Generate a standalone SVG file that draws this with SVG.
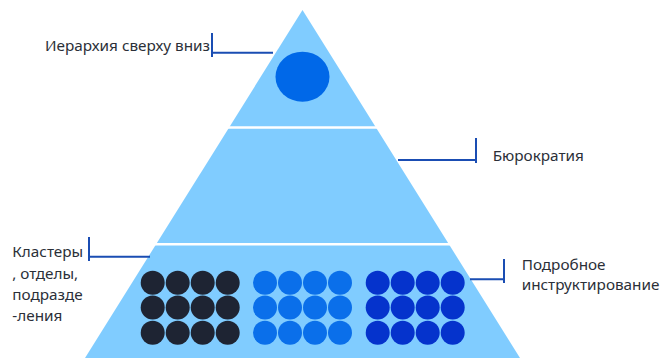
<svg xmlns="http://www.w3.org/2000/svg" width="663" height="358" viewBox="0 0 663 358">
<style>
.lbl{font-family:"Noto Sans","Open Sans",sans-serif;font-size:15.3px;fill:#2B2F38}
.con{stroke:#1A4DB3;stroke-width:2;fill:none}
.dk{fill:#1E2433}
.md{fill:#0A6FEA}
.db{fill:#0533CC}
</style>
<g id="pyramid">
<polygon points="302.5,10 85,358 520,358" fill="#80CCFF"/>
<line x1="150" y1="127.5" x2="460" y2="127.5" stroke="#FFFFFF" stroke-width="2.5"/>
<line x1="100" y1="244.3" x2="520" y2="244.3" stroke="#FFFFFF" stroke-width="2.5"/>
</g>
<g id="top-circle">
<ellipse cx="302.5" cy="76.7" rx="27" ry="25" fill="#0068E8"/>
</g>
<g id="clusters-dark">
<circle class="dk" cx="152.7" cy="282.7" r="12"/><circle class="dk" cx="177.7" cy="282.7" r="12"/><circle class="dk" cx="202.7" cy="282.7" r="12"/><circle class="dk" cx="227.7" cy="282.7" r="12"/>
<circle class="dk" cx="152.7" cy="307.5" r="12"/><circle class="dk" cx="177.7" cy="307.5" r="12"/><circle class="dk" cx="202.7" cy="307.5" r="12"/><circle class="dk" cx="227.7" cy="307.5" r="12"/>
<circle class="dk" cx="152.7" cy="332.7" r="12"/><circle class="dk" cx="177.7" cy="332.7" r="12"/><circle class="dk" cx="202.7" cy="332.7" r="12"/><circle class="dk" cx="227.7" cy="332.7" r="12"/>
</g>
<g id="clusters-mid">
<circle class="md" cx="265" cy="282.7" r="12"/><circle class="md" cx="290" cy="282.7" r="12"/><circle class="md" cx="315" cy="282.7" r="12"/><circle class="md" cx="340" cy="282.7" r="12"/>
<circle class="md" cx="265" cy="307.5" r="12"/><circle class="md" cx="290" cy="307.5" r="12"/><circle class="md" cx="315" cy="307.5" r="12"/><circle class="md" cx="340" cy="307.5" r="12"/>
<circle class="md" cx="265" cy="332.7" r="12"/><circle class="md" cx="290" cy="332.7" r="12"/><circle class="md" cx="315" cy="332.7" r="12"/><circle class="md" cx="340" cy="332.7" r="12"/>
</g>
<g id="clusters-blue">
<circle class="db" cx="377.7" cy="282.7" r="12"/><circle class="db" cx="402.7" cy="282.7" r="12"/><circle class="db" cx="427.7" cy="282.7" r="12"/><circle class="db" cx="452.7" cy="282.7" r="12"/>
<circle class="db" cx="377.7" cy="307.5" r="12"/><circle class="db" cx="402.7" cy="307.5" r="12"/><circle class="db" cx="427.7" cy="307.5" r="12"/><circle class="db" cx="452.7" cy="307.5" r="12"/>
<circle class="db" cx="377.7" cy="332.7" r="12"/><circle class="db" cx="402.7" cy="332.7" r="12"/><circle class="db" cx="427.7" cy="332.7" r="12"/><circle class="db" cx="452.7" cy="332.7" r="12"/>
</g>
<g id="connectors">
<path class="con" d="M212,33 V57 M212,52.7 H273"/>
<path class="con" d="M476,138 V163 M476,160 H398"/>
<path class="con" d="M89,237 V261 M89,256.7 H150"/>
<path class="con" d="M504,259 V283 M504,279.3 H470"/>
</g>
<g id="label-top">
<text class="lbl" x="45" y="51">Иерархия сверху вниз</text>
</g>
<g id="label-bureaucracy">
<text class="lbl" x="492.7" y="161">Бюрократия</text>
</g>
<g id="label-clusters">
<text class="lbl" x="12.3" y="257">Кластеры</text>
<text class="lbl" x="12.3" y="278.5">, отделы,</text>
<text class="lbl" x="12.3" y="299.5">подразде</text>
<text class="lbl" x="12.3" y="320.5">-ления</text>
</g>
<g id="label-detailed">
<text class="lbl" x="521.7" y="269.5">Подробное</text>
<text class="lbl" x="521.7" y="290">инструктирование</text>
</g>
</svg>
